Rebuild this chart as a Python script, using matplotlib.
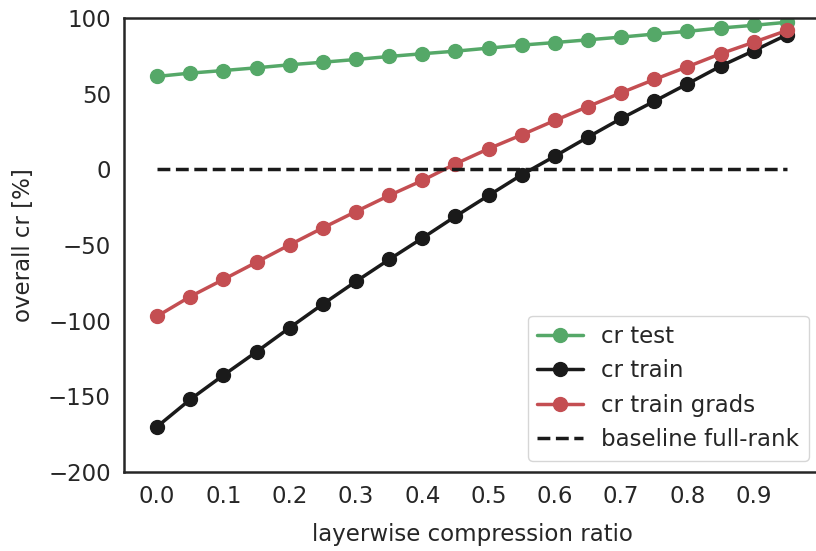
import numpy as np
import matplotlib
matplotlib.use("Agg")
import matplotlib.pyplot as plt
import seaborn as sns

sns.set_theme(style="white")
sns.set_color_codes("deep")
plt.rcParams["font.family"] = ["DejaVu Sans"]

# ── data ──────────────────────────────────────────────────
ratio = [0.0, 0.05, 0.1, 0.15, 0.2, 0.25, 0.3, 0.35, 0.4, 0.45,
         0.5, 0.55, 0.6, 0.65, 0.7, 0.75, 0.8, 0.85, 0.9, 0.95]
cr_test = [61.5, 63.7, 65.4, 67.2, 69.2, 70.9, 72.7, 74.7, 76.5, 78.2,
           80.2, 82.2, 83.9, 85.7, 87.5, 89.5, 91.3, 93.5, 95.3, 97.3]
cr_train = [-170, -152, -136, -120.5, -104.6, -89, -74, -59.5, -45.4, -31,
            -17.2, -3.5, 8.8, 21.4, 33.7, 45.1, 56.6, 68.3, 78.5, 89]
cr_train_grads = [-97, -84, -72.7, -61.3, -49.8, -38.6, -27.8, -17.2, -7.3, 3.7,
                  13.7, 22.9, 32.4, 41.6, 50.7, 59.5, 67.9, 76.5, 84.1, 91.9]
baseline = [0.0] * len(ratio)

xticks = [0.0, 0.1, 0.2, 0.3, 0.4, 0.5, 0.6, 0.7, 0.8, 0.9]
yticks = [-200, -150, -100, -50, 0, 50, 100]

FS = 16.5

# ── plot ──────────────────────────────────────────────────
fig = plt.figure(figsize=(8.16, 5.51), dpi=100)
ax = fig.add_axes([0.152, 0.1434, 0.853, 0.8236])

ax.plot(ratio, cr_test, "g-o", lw=2.5, ms=10, label="cr test")
ax.plot(ratio, cr_train, "k-o", lw=2.5, ms=10, label="cr train")
ax.plot(ratio, cr_train_grads, "r-o", lw=2.5, ms=10, label="cr train grads")
ax.plot(ratio, baseline, "k--", lw=2.5, label="baseline full-rank")

ax.set_xlim(-0.05, 1.0)
ax.set_ylim(-200, 100)
ax.set_xticks(xticks)
ax.set_yticks(yticks)
ax.tick_params(labelsize=FS)
ax.set_xlabel("layerwise compression ratio", fontsize=FS, labelpad=10.5)
ax.set_ylabel("overall cr [%]", fontsize=FS, labelpad=9)
for s in ax.spines.values():
    s.set_color("#262626")
    s.set_linewidth(1.8)

ax.legend(loc="lower right", fontsize=FS)

fig.savefig("out.png", dpi=100)
